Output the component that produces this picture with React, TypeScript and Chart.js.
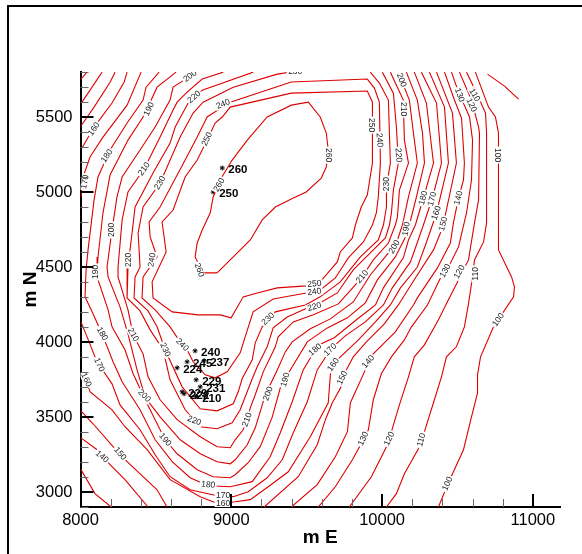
import React, { useEffect, useRef } from "react";
import { Chart, registerables } from "chart.js";

Chart.register(...registerables);

const X_MAJOR = [8000, 9000, 10000, 11000];
const Y_MAJOR = [3000, 3500, 4000, 4500, 5000, 5500];
const X_MINOR = [8200, 8400, 8600, 8800, 9200, 9400, 9600, 9800, 10200, 10400, 10600, 10800];
const Y_MINOR = [2900, 3100, 3200, 3300, 3400, 3600, 3700, 3800, 3900, 4100, 4200, 4300, 4400, 4600, 4700, 4800, 4900, 5100, 5200, 5300, 5400, 5600, 5700, 5800];

const c90 = [[10699,5786],[10812,5706],[10905,5619]];
const c100 = [[10619,5799],[10706,5566],[10752,5500],[10772,5393],[10772,4614],[10859,4434],[10878,4367],[10872,4301],[10739,4101],[10653,3901],[10633,3781],[10633,3661],[10593,3501],[10540,3282],[10440,3062],[10374,2900]];
const c110 = [[10560,5799],[10633,5646],[10686,5526],[10693,5393],[10693,4794],[10673,4667],[10613,4547],[10600,4434],[10573,4254],[10546,4101],[10493,3968],[10427,3901],[10394,3768],[10347,3615],[10281,3402],[10241,3288],[10148,3122],[10095,2989],[10029,2900]];
const c120 = [[10513,5799],[10593,5613],[10640,5433],[10646,5393],[10640,4947],[10613,4794],[10573,4547],[10507,4414],[10440,4281],[10374,4148],[10281,3981],[10214,3901],[10175,3768],[10115,3581],[10062,3402],[10029,3302],[9929,3102],[9783,2900]];
const c130a = [[8043,5799],[8003,5753]];
const c130b = [[8003,3149],[8096,2989],[8203,2900]];
const c130c = [[10460,5799],[10507,5666],[10580,5500],[10600,5346],[10593,5080],[10560,4860],[10507,4634],[10440,4500],[10387,4427],[10301,4247],[10195,4101],[10148,4014],[10062,3901],[9995,3788],[9942,3615],[9909,3415],[9869,3335],[9803,3215],[9690,3035],[9577,2900]];
const c140a = [[8143,5799],[8010,5599]];
const c140b = [[8003,3361],[8110,3282],[8196,3182],[8295,3082],[8448,2900]];
const c140c = [[10414,5799],[10480,5613],[10527,5493],[10546,5193],[10540,5080],[10507,4960],[10473,4794],[10453,4660],[10367,4494],[10234,4294],[10208,4247],[10088,4068],[9922,3901],[9889,3814],[9790,3595],[9770,3402],[9690,3235],[9570,3049],[9398,2900]];
const c150a = [[8229,5799],[8196,5732],[8090,5566],[8003,5440]];
const c150b = [[8003,3541],[8083,3455],[8216,3302],[8309,3202],[8415,3102],[8508,3015],[8574,2900]];
const c150c = [[10361,5799],[10467,5526],[10493,5193],[10407,4787],[10387,4727],[10341,4614],[10221,4427],[10108,4247],[10015,4121],[9896,4001],[9809,3901],[9763,3814],[9736,3761],[9736,3715],[9670,3595],[9624,3482],[9570,3315],[9444,3102],[9218,2900]];
const c160a = [[8309,5799],[8289,5732],[8209,5593],[8090,5433],[8010,5293]];
const c160b = [[10314,5799],[10414,5566],[10440,5193],[10361,4860],[10334,4780],[10288,4647],[10234,4500],[10122,4361],[10055,4247],[9956,4134],[9843,4014],[9710,3888],[9677,3848],[9657,3781],[9643,3595],[9524,3368],[9378,3135],[9245,3035],[9126,2949],[9026,2935],[8913,2922],[8794,2969],[8594,3082],[8442,3282],[8295,3435],[8209,3548],[8063,3668],[8037,3748],[8003,3801]];
const c170a = [[8402,5799],[8309,5579],[8149,5366],[8063,5233],[8017,5100],[8003,4967]];
const c170b = [[8003,4134],[8057,4001],[8096,3901],[8123,3848],[8209,3721],[8262,3581],[8395,3415],[8495,3248],[8594,3102],[8727,3015],[8906,2975],[9013,2969],[9112,3002],[9238,3095],[9338,3215],[9411,3395],[9504,3602],[9570,3814],[9657,3948],[9697,3988],[9756,4041],[9889,4134],[10009,4247],[10068,4361],[10188,4534],[10228,4647],[10274,4780],[10334,4960],[10394,5193],[10361,5593],[10261,5799]];
const c180 = [[8521,5799],[8435,5699],[8415,5613],[8309,5460],[8196,5280],[8116,5100],[8090,4947],[8050,4614],[8037,4481],[8030,4301],[8083,4188],[8143,4054],[8216,3868],[8276,3735],[8395,3548],[8495,3348],[8608,3202],[8727,3095],[8847,3042],[8993,3035],[9139,3069],[9258,3235],[9325,3395],[9404,3602],[9477,3814],[9557,3948],[9597,3988],[9683,4028],[9830,4148],[9956,4247],[10009,4361],[10141,4561],[10175,4680],[10221,4780],[10274,4960],[10341,5193],[10294,5593],[10214,5799]];
const c190 = [[8634,5799],[8508,5699],[8462,5599],[8415,5500],[8315,5346],[8196,5113],[8149,4860],[8116,4567],[8110,4434],[8183,4214],[8209,4101],[8295,3948],[8349,3788],[8442,3588],[8561,3348],[8641,3255],[8774,3148],[8880,3102],[8993,3095],[9026,3115],[9112,3195],[9192,3302],[9272,3501],[9325,3695],[9358,3748],[9391,3814],[9504,4001],[9637,4094],[9770,4161],[9889,4261],[9969,4414],[10088,4567],[10155,4700],[10181,4780],[10228,4967],[10281,5193],[10268,5393],[10234,5613],[10161,5799]];
const c200 = [[8774,5799],[8687,5746],[8614,5699],[8594,5613],[8495,5433],[8395,5280],[8276,5100],[8242,4967],[8209,4747],[8176,4500],[8183,4434],[8262,4234],[8315,4054],[8375,3814],[8428,3635],[8462,3588],[8528,3501],[8661,3348],[8794,3255],[8906,3202],[8993,3188],[9026,3215],[9106,3315],[9159,3428],[9212,3602],[9238,3655],[9258,3715],[9305,3814],[9358,3934],[9404,4001],[9524,4088],[9657,4154],[9809,4267],[9922,4447],[10042,4594],[10102,4680],[10135,4780],[10175,4967],[10234,5193],[10208,5393],[10181,5613],[10108,5799]];
const c210 = [[8946,5799],[8807,5753],[8707,5666],[8641,5599],[8614,5546],[8528,5366],[8422,5153],[8315,5000],[8276,4814],[8249,4500],[8249,4434],[8315,4214],[8349,4048],[8415,3921],[8448,3768],[8528,3615],[8641,3482],[8794,3368],[8906,3302],[8993,3295],[9026,3348],[9079,3415],[9106,3482],[9126,3561],[9159,3648],[9212,3801],[9292,3968],[9311,4034],[9411,4134],[9544,4181],[9710,4254],[9823,4381],[9889,4467],[9942,4547],[10042,4660],[10088,4780],[10102,4834],[10115,5013],[10175,5193],[10148,5346],[10141,5613],[10055,5799]];
const c220 = [[9145,5799],[8807,5679],[8714,5593],[8628,5433],[8594,5326],[8481,5126],[8362,4900],[8342,4727],[8315,4500],[8309,4434],[8309,4294],[8395,4207],[8462,4081],[8548,3948],[8594,3748],[8694,3548],[8794,3435],[8906,3422],[9006,3462],[9059,3548],[9139,3755],[9172,3835],[9238,3968],[9278,4094],[9371,4167],[9504,4227],[9590,4261],[9703,4327],[9809,4481],[9922,4594],[10022,4694],[10049,4780],[10062,4860],[10075,5013],[10108,5193],[10095,5433],[10075,5659],[10002,5799]];
const c230a = [[9391,5799],[9305,5786],[9013,5699],[8813,5599],[8747,5526],[8661,5366],[8528,5060],[8415,4900],[8382,4727],[8395,4500],[8362,4434],[8355,4294],[8448,4207],[8508,4101],[8561,3948],[8674,3701],[8794,3555],[8906,3541],[9013,3588],[9046,3668],[9072,3755],[9139,3881],[9159,3994],[9205,4101],[9292,4201],[9491,4247],[9590,4301],[9723,4401],[9856,4567],[9975,4680],[10009,4780],[10029,4900],[10029,5033],[10055,5193],[10042,5613],[9982,5726],[9922,5799]];
const c240 = [[9398,5733],[9902,5753],[9949,5693],[9982,5599],[9989,5193],[9975,4967],[9962,4860],[9936,4780],[9876,4667],[9776,4561],[9690,4427],[9590,4347],[9497,4327],[9278,4287],[9145,4201],[9092,4034],[9059,3928],[8973,3801],[8893,3761],[8827,3781],[8747,3868],[8714,3935],[8674,3981],[8594,4101],[8495,4214],[8408,4294],[8415,4434],[8508,4567],[8462,4700],[8455,4800],[8528,4900],[8694,5213],[8774,5366],[8840,5500],[8993,5599],[9398,5733]];
const c250 = [[9398,5659],[9902,5673],[9936,5599],[9936,5193],[9902,4980],[9862,4900],[9823,4780],[9803,4694],[9723,4600],[9703,4534],[9590,4401],[9497,4374],[9305,4361],[9172,4327],[9079,4301],[8999,4161],[8926,4181],[8780,4181],[8608,4201],[8481,4294],[8475,4401],[8568,4600],[8541,4800],[8614,4880],[8694,5100],[8774,5213],[8840,5346],[8893,5460],[8940,5500],[8993,5566],[9398,5659]];
const c260 = [[8906,4461],[8813,4461],[8760,4567],[8774,4660],[8807,4747],[8860,4860],[8880,4967],[8926,5080],[9006,5213],[9106,5346],[9238,5500],[9398,5579],[9511,5599],[9590,5500],[9630,5393],[9643,5280],[9630,5167],[9597,5093],[9497,5000],[9398,4953],[9292,4900],[9205,4814],[9126,4680],[9013,4567],[8906,4461]];

const CONTOURS = [c90, c100, c110, c120, c130a, c130b, c130c, c140a, c140b, c140c, c150a, c150b, c150c, c160a, c160b, c170a, c170b, c180, c190, c200, c210, c220, c230a, c240, c250, c260];

const LABEL_VALUES = [200,230,220,240,190,160,180,250,210,230,170,260,200,220,240,190,260,200,210,130,120,110,250,240,260,100,220,230,180,170,140,160,150,190,200,130,120,110,210,250,240,220,230,180,170,160,150,140,190,100,130,120,110,100,180,210,230,240,170,160,200,190,150,140,220,180,170,160,200,210];
const LABEL_X = [8727,9424,8754,8946,8455,8090,8176,8840,8422,8528,8030,8920,8209,8322,8475,8103,8787,10128,10141,10513,10593,10613,9929,9982,9643,10766,10108,10029,10274,10334,10507,10361,10407,10161,10082,10420,10513,10619,9869,9551,9551,9551,9245,9557,9657,9677,9736,9909,9358,10772,9876,10048,10261,10434,8143,8349,8561,8674,8123,8037,8422,8561,8262,8143,8754,8847,8946,8946,9245,9106];
const LABEL_Y = [5772,5799,5633,5586,5553,5420,5240,5353,5153,5060,5067,5047,4747,4547,4547,4467,4480,5746,5553,5646,5579,5646,5446,5346,5246,5246,5246,5053,4960,4953,4960,4860,4787,4754,4634,4474,4467,4454,4434,4387,4334,4234,4154,3948,3948,3848,3761,3868,3748,4147,3355,3355,3348,3055,4054,4048,3948,3981,3848,3748,3641,3348,3255,3235,3475,3048,2975,2922,3655,3482];
const LABEL_ANGLE = [-35,0,-40,-22,-65,-55,-55,-65,-55,-60,-80,-60,-90,-90,-80,-90,70,70,90,70,65,60,90,85,90,90,85,-90,-75,-75,-75,-70,-75,-80,-60,-60,-60,-90,-50,-5,-8,-15,-45,-40,-45,-55,-65,-50,-75,-55,-65,-65,-75,-65,60,60,65,45,65,65,45,50,50,40,20,5,0,0,-70,-70];

const SAMPLE_X = [8940,8880,8760,8707,8820,8641,8767,8794,8674,8687,8767];
const SAMPLE_Y = [5160,5000,3941,3868,3875,3828,3748,3701,3668,3655,3635];
const SAMPLE_VALUES = [260,250,240,245,237,224,229,231,229,222,210];

const LINE_RED = "#dd0000";
const FONT = '"Liberation Sans", Arial, sans-serif';

const overlay = {
  id: "overlay",
  beforeDraw(chart: any) {
    const { ctx } = chart;
    ctx.save();
    ctx.fillStyle = "#fff";
    ctx.fillRect(0, 0, chart.width, chart.height);
    ctx.strokeStyle = "#000";
    ctx.lineWidth = 2;
    ctx.strokeRect(8, 6, 800, 800);
    ctx.restore();
  },
  afterDatasetsDraw(chart: any) {
    const { ctx, chartArea } = chart;
    const xs = chart.scales.x;
    const ys = chart.scales.y;
    ctx.save();
    ctx.beginPath();
    ctx.rect(chartArea.left, chartArea.top, chartArea.right - chartArea.left, chartArea.bottom - chartArea.top);
    ctx.clip();
    ctx.font = `8.5px ${FONT}`;
    ctx.textAlign = "center";
    ctx.textBaseline = "middle";
    LABEL_VALUES.forEach((v, i) => {
      ctx.save();
      ctx.translate(xs.getPixelForValue(LABEL_X[i]), ys.getPixelForValue(LABEL_Y[i]));
      ctx.rotate((LABEL_ANGLE[i] * Math.PI) / 180);
      ctx.fillStyle = "#fff";
      ctx.fillRect(-8.5, -4, 17, 8);
      ctx.fillStyle = "#222";
      ctx.fillText(String(v), 0, 0);
      ctx.restore();
    });
    ctx.restore();

    ctx.save();
    ctx.fillStyle = "#000";
    ctx.font = `bold 11.5px ${FONT}`;
    ctx.textAlign = "left";
    ctx.textBaseline = "middle";
    SAMPLE_VALUES.forEach((v, i) => {
      ctx.fillText(String(v), xs.getPixelForValue(SAMPLE_X[i]) + 6, ys.getPixelForValue(SAMPLE_Y[i]) + 2);
    });
    const b = chartArea.bottom;
    const l = chartArea.left;
    ctx.strokeStyle = "#666";
    ctx.lineWidth = 1;
    X_MINOR.forEach((v) => {
      const p = Math.round(xs.getPixelForValue(v)) + 0.5;
      ctx.beginPath(); ctx.moveTo(p, b); ctx.lineTo(p, b - 8); ctx.stroke();
    });
    Y_MINOR.forEach((v) => {
      const p = Math.round(ys.getPixelForValue(v)) + 0.5;
      ctx.beginPath(); ctx.moveTo(l, p); ctx.lineTo(l + 8, p); ctx.stroke();
    });
    ctx.strokeStyle = "#000";
    ctx.lineWidth = 2;
    X_MAJOR.forEach((v) => {
      const p = Math.round(xs.getPixelForValue(v));
      ctx.beginPath(); ctx.moveTo(p, b); ctx.lineTo(p, b - 13); ctx.stroke();
    });
    Y_MAJOR.forEach((v) => {
      const p = Math.round(ys.getPixelForValue(v));
      ctx.beginPath(); ctx.moveTo(l, p); ctx.lineTo(l + 13, p); ctx.stroke();
    });
    ctx.restore();
  },
};

export default function App() {
  const ref = useRef<HTMLCanvasElement>(null);
  useEffect(() => {
    const datasets: any[] = CONTOURS.map((c) => ({
      data: c.map(([x, y]) => ({ x, y })),
      showLine: true,
      borderColor: LINE_RED,
      borderWidth: 1.1,
      pointRadius: 0,
      tension: 0,
      fill: false,
    }));
    datasets.push({
      data: SAMPLE_X.map((x, i) => ({ x, y: SAMPLE_Y[i] })),
      showLine: false,
      pointStyle: "star",
      pointRadius: 2.5,
      pointBorderColor: "#000",
      pointBackgroundColor: "#000",
      pointBorderWidth: 1,
    });
    const chart = new Chart(ref.current as HTMLCanvasElement, {
      type: "scatter",
      data: { datasets },
      plugins: [overlay],
      options: {
        responsive: false,
        animation: false,
        layout: { padding: { left: 0, top: 72, right: 22, bottom: 0 } },
        plugins: { legend: { display: false }, tooltip: { enabled: false }, title: { display: false } },
        scales: {
          x: {
            type: "linear",
            min: 8000,
            max: 11180,
            afterBuildTicks: (s: any) => { s.ticks = X_MAJOR.map((value) => ({ value })); },
            afterFit: (s: any) => { s.height = 47; },
            grid: { display: false, drawTicks: false },
            border: { display: true, color: "#000", width: 2 },
            ticks: { color: "#000", font: { family: FONT, size: 16.5 }, padding: 4, maxRotation: 0, autoSkip: false, callback: (v: any) => String(v) },
            title: { display: true, text: "m E", color: "#000", font: { family: FONT, size: 19, weight: "bold" }, padding: { top: 0, bottom: 5 } },
          },
          y: {
            type: "linear",
            min: 2900,
            max: 5800,
            afterBuildTicks: (s: any) => { s.ticks = Y_MAJOR.map((value) => ({ value })); },
            afterFit: (s: any) => { s.width = 80.5; },
            grid: { display: false, drawTicks: false },
            border: { display: true, color: "#000", width: 2 },
            ticks: { color: "#000", font: { family: FONT, size: 16.5 }, padding: 8, autoSkip: false, callback: (v: any) => String(v) },
            title: { display: true, text: "m N", color: "#000", font: { family: FONT, size: 19, weight: "bold" }, padding: { top: 19, bottom: 0 } },
          },
        },
      } as any,
    });
    return () => chart.destroy();
  }, []);
  return <canvas ref={ref} width={582} height={554} style={{ position: "fixed", left: 0, top: 0, display: "block" }} />;
}
